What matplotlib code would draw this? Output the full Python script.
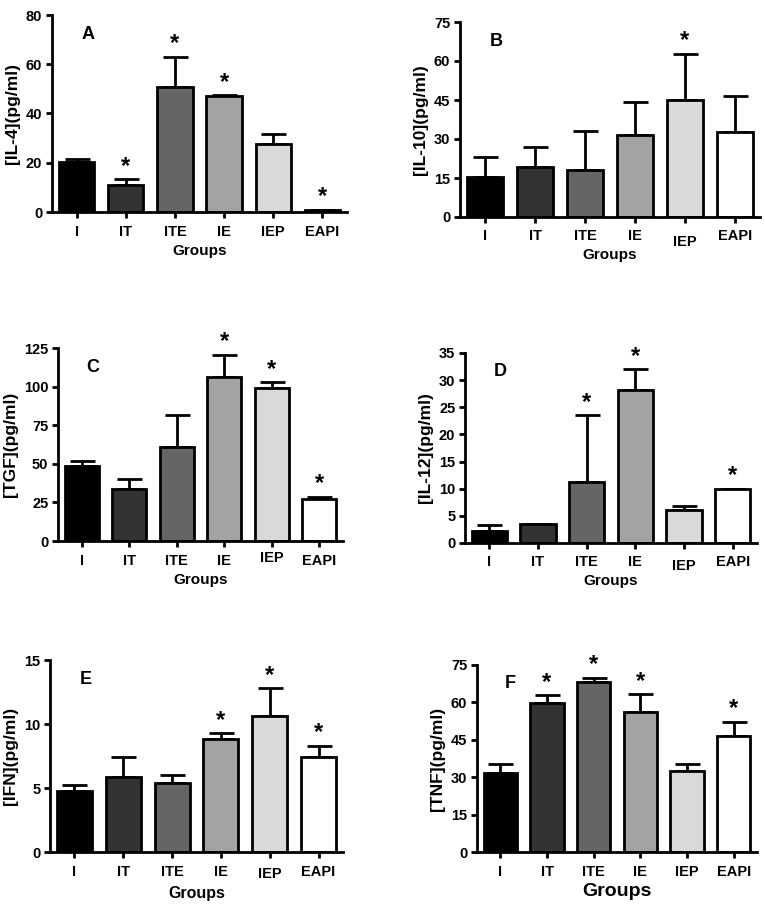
import matplotlib
matplotlib.use("Agg")
import matplotlib.pyplot as plt
import matplotlib.transforms as mtransforms
import numpy as np

plt.rcParams["font.family"] = ["Liberation Sans", "DejaVu Sans"]
plt.rcParams["font.weight"] = "bold"

groups = ["I", "IT", "ITE", "IE", "IEP", "EAPI"]
colors = ["#000000", "#333333", "#656565", "#a3a3a6", "#d9d9d9", "#ffffff"]

# mean values and top of error bar, per panel
il4 = [20.3, 10.8, 50.6, 47.0, 27.5, 0.7]
il4_err = [21.7, 13.2, 63.0, 47.5, 31.5, 1.0]
il4_star = [False, True, True, True, False, True]

il10 = [15.2, 19.4, 17.9, 31.5, 45.0, 32.6]
il10_err = [22.9, 27.0, 33.2, 44.3, 62.8, 46.5]
il10_star = [False, False, False, False, True, False]

tgf = [48.5, 33.6, 60.7, 106.0, 99.2, 27.0]
tgf_err = [51.6, 40.0, 81.5, 120.7, 102.7, 28.6]
tgf_star = [False, False, False, True, True, True]

il12 = [2.2, 3.45, 11.3, 28.2, 6.0, 9.9]
il12_err = [3.4, 3.55, 23.5, 32.0, 6.9, 10.0]
il12_star = [False, False, True, True, False, True]

ifn = [4.75, 5.87, 5.4, 8.8, 10.64, 7.43]
ifn_err = [5.27, 7.46, 6.03, 9.26, 12.78, 8.3]
ifn_star = [False, False, False, True, True, True]

tnf = [31.5, 59.6, 68.0, 56.0, 32.4, 46.6]
tnf_err = [35.2, 62.9, 69.9, 63.3, 35.1, 52.2]
tnf_star = [False, True, True, True, False, True]

W, H = 765, 905
fig = plt.figure(figsize=(W / 100, H / 100), dpi=100)


def px_axes(l, t, r, b):
    return fig.add_axes([l / W, 1 - b / H, (r - l) / W, (b - t) / H])


# last field: vertical shift (px, down positive) of the "IEP" tick label, as in the original
panels = [
    ("A", "[IL-4](pg/ml)", il4, il4_err, il4_star, 80, 20, (52, 15, 347, 212), 11, 4, 0),
    ("B", "[IL-10](pg/ml)", il10, il10_err, il10_star, 75, 15, (460, 22, 760, 217), 11, 0, 5),
    ("C", "[TGF](pg/ml)", tgf, tgf_err, tgf_star, 125, 25, (58, 348, 343, 541), 11, 4, -3),
    ("D", "[IL-12](pg/ml)", il12, il12_err, il12_star, 35, 5, (465, 353, 757, 543), 11, 0, 4),
    ("E", "[IFN](pg/ml)", ifn, ifn_err, ifn_star, 15, 5, (50, 660, 343, 852), 11.5, 4, 2),
    ("F", "[TNF](pg/ml)", tnf, tnf_err, tnf_star, 75, 15, (477, 665, 757, 852), 14, 3, 0),
]

for letter, ylabel, vals, tops, stars, ymax, step, rect, glabel_size, gpad, iep_shift in panels:
    ax = px_axes(*rect)
    x = np.arange(len(groups))
    vals = np.array(vals)
    tops = np.array(tops)
    ax.errorbar(x, vals, yerr=[np.zeros_like(vals), tops - vals], fmt="none",
                ecolor="black", elinewidth=2, capsize=9, capthick=2, zorder=1)
    ax.bar(x, vals, width=0.72, color=colors, edgecolor="black", linewidth=2, zorder=2)
    for xi, top, s in zip(x, tops, stars):
        if s:
            ax.annotate("*", (xi, top), xytext=(0, 1), textcoords="offset points",
                        ha="center", va="bottom", fontsize=17, fontweight="bold")
    ax.set_xlim(-0.5, 5.5)
    ax.set_ylim(0, ymax)
    ax.set_yticks(np.arange(0, ymax + 0.1, step))
    ax.set_xticks(x)
    ax.set_xticklabels(groups)
    ax.spines["top"].set_visible(False)
    ax.spines["right"].set_visible(False)
    ax.spines["left"].set_linewidth(2)
    ax.spines["bottom"].set_linewidth(2)
    ax.tick_params(axis="both", labelsize=10.5, width=2, length=4)
    ax.tick_params(axis="x", pad=5)
    ax.tick_params(axis="y", pad=3)
    for lab in ax.get_xticklabels() + ax.get_yticklabels():
        lab.set_fontweight("bold")
    if iep_shift:
        lab = ax.get_xticklabels()[4]
        offset = mtransforms.ScaledTranslation(0, -iep_shift / 100, fig.dpi_scale_trans)
        lab.set_transform(lab.get_transform() + offset)
    ax.set_ylabel(ylabel, fontsize=12.5, fontweight="bold", labelpad=4)
    ax.set_xlabel("Groups", fontsize=glabel_size, fontweight="bold", labelpad=gpad)
    ax.text(0.1, 0.9, letter, transform=ax.transAxes, fontsize=13,
            fontweight="bold", ha="left", va="center")

fig.savefig("out.png", dpi=100)
